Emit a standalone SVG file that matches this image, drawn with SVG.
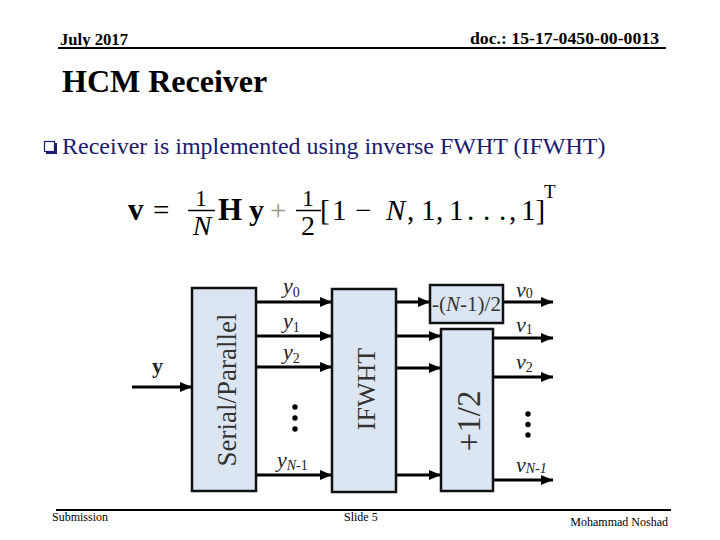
<svg xmlns="http://www.w3.org/2000/svg" width="720" height="540" viewBox="0 0 720 540">
<defs>
<marker id="ah" markerUnits="userSpaceOnUse" markerWidth="12" markerHeight="10" viewBox="0 0 12 10" refX="12" refY="5" orient="auto">
<path d="M0,0 L12,5 L0,10 z" fill="#000"/>
</marker>
<style>
.hdr{font-family:"Liberation Serif",serif;font-weight:bold;fill:#000}
.ftr{font-family:"Liberation Serif",serif;font-size:12px;fill:#000}
.bul{font-family:"Liberation Serif",serif;font-size:24px;fill:#1a1a70}
.box{fill:#dce6f2;stroke:#111;stroke-width:2.5}
.blk{font-family:"Liberation Serif",serif;fill:#333}
.lbl{font-family:"Liberation Serif",serif;font-size:22px;font-style:italic;fill:#222}
.sub{font-size:14px;font-style:normal}
.it{font-style:italic}
.eq{font-family:"Liberation Serif",serif;font-size:29px;fill:#000}
.conn line{stroke:#000;stroke-width:3;marker-end:url(#ah)}
</style>
</defs>
<rect width="720" height="540" fill="#fff"/>

<!-- header -->
<text class="hdr" x="60" y="45" font-size="17" textLength="68" lengthAdjust="spacingAndGlyphs">July 2017</text>
<text class="hdr" x="470" y="44" font-size="17.5" textLength="189" lengthAdjust="spacingAndGlyphs">doc.: 15-17-0450-00-0013</text>
<line x1="58" y1="48" x2="666" y2="48" stroke="#000" stroke-width="2"/>

<!-- title -->
<text class="hdr" x="62" y="92" font-size="32">HCM Receiver</text>

<!-- bullet -->
<g id="bullet">
<rect x="44.5" y="141.5" width="10" height="10" fill="none" stroke="#1a1a70" stroke-width="1.2"/>
<path d="M46,153 H56 V143" fill="none" stroke="#1a1a70" stroke-width="2"/>
<text class="bul" x="62" y="154">Receiver is implemented using inverse FWHT (IFWHT)</text>
</g>

<!-- equation -->
<g id="equation" class="eq">
<text x="128" y="220" font-weight="bold" font-size="31">v</text>
<text x="153" y="220">=</text>
<text x="201" y="206" font-size="23" text-anchor="middle">1</text>
<line x1="188" y1="210.5" x2="215" y2="210.5" stroke="#000" stroke-width="1.5"/>
<text x="202" y="235" font-size="28" font-style="italic" text-anchor="middle">N</text>
<text x="218" y="220" font-weight="bold" font-size="31">H</text>
<text x="249" y="220" font-weight="bold" font-size="30">y</text>
<text x="270" y="220" fill="#9a9a82">+</text>
<text x="308" y="206" font-size="23" text-anchor="middle">1</text>
<line x1="296" y1="210.5" x2="321" y2="210.5" stroke="#000" stroke-width="1.5"/>
<text x="308" y="235" font-size="28" text-anchor="middle">2</text>
<text x="320" y="220">[</text>
<text x="332" y="220">1</text>
<text x="355" y="220">−</text>
<text x="386" y="220" font-style="italic">N</text>
<text x="407" y="220">,</text>
<text x="421" y="220">1</text>
<text x="436" y="220">,</text>
<text x="449" y="220">1</text>
<text x="467" y="220">.</text>
<text x="483" y="220">.</text>
<text x="499" y="220">.</text>
<text x="509" y="220">,</text>
<text x="521" y="220">1</text>
<text x="535.5" y="220">]</text>
<text x="544" y="198" font-size="19">T</text>
</g>

<!-- nodes -->
<g id="sp">
<rect class="box" x="192" y="288" width="64" height="203"/>
<text class="blk" font-size="27" text-anchor="middle" transform="translate(236,390) rotate(-90)">Serial/Parallel</text>
</g>
<g id="ifwht">
<rect class="box" x="332" y="289" width="64" height="203"/>
<text class="blk" font-size="26" text-anchor="middle" transform="translate(375,389) rotate(-90)">IFWHT</text>
</g>
<g id="minus">
<rect class="box" x="430" y="285" width="73" height="38"/>
<text class="blk" x="466.5" y="311" font-size="21" text-anchor="middle">-(<tspan font-style="italic">N</tspan>-1)/2</text>
</g>
<g id="plus">
<rect class="box" x="441" y="329" width="52" height="162"/>
<text class="blk" font-size="33" text-anchor="middle" transform="translate(480,421) rotate(-90)">+1/2</text>
</g>

<!-- connectors -->
<g id="connectors" class="conn">
<line x1="132" y1="387" x2="192" y2="387"/>
<line x1="257" y1="302" x2="332" y2="302"/>
<line x1="257" y1="336" x2="332" y2="336"/>
<line x1="257" y1="367" x2="332" y2="367"/>
<line x1="257" y1="475" x2="332" y2="475"/>
<line x1="397" y1="302" x2="430" y2="302"/>
<line x1="397" y1="336" x2="441" y2="336"/>
<line x1="397" y1="368" x2="441" y2="368"/>
<line x1="397" y1="475" x2="441" y2="475"/>
<line x1="504" y1="302" x2="553" y2="302"/>
<line x1="494" y1="338" x2="553" y2="338"/>
<line x1="494" y1="377" x2="553" y2="377"/>
<line x1="494" y1="480" x2="553" y2="480"/>
</g>

<!-- labels -->
<g id="labels">
<text x="152" y="373" font-family="Liberation Serif, serif" font-size="22" font-weight="bold" fill="#222">y</text>
<text class="lbl" x="283" y="293">y<tspan class="sub" dy="4">0</tspan></text>
<text class="lbl" x="283" y="328">y<tspan class="sub" dy="4">1</tspan></text>
<text class="lbl" x="283" y="359">y<tspan class="sub" dy="4">2</tspan></text>
<text class="lbl" x="277" y="467">y<tspan class="sub" dy="3"><tspan class="it">N</tspan>-1</tspan></text>
<text class="lbl" x="516" y="297">v<tspan class="sub" dy="1">0</tspan></text>
<text class="lbl" x="516" y="332">v<tspan class="sub" dy="2">1</tspan></text>
<text class="lbl" x="516" y="369">v<tspan class="sub" dy="3">2</tspan></text>
<text class="lbl" x="516" y="472">v<tspan class="sub" dy="1"><tspan class="it">N-1</tspan></tspan></text>
</g>

<!-- dots -->
<g id="dots" fill="#000">
<circle cx="295" cy="407" r="2.7"/>
<circle cx="295" cy="418" r="2.7"/>
<circle cx="295" cy="429" r="2.7"/>
<circle cx="528" cy="414" r="2.7"/>
<circle cx="528" cy="424.5" r="2.7"/>
<circle cx="528" cy="435" r="2.7"/>
</g>

<!-- footer -->
<line x1="56" y1="510" x2="671" y2="510" stroke="#000" stroke-width="2"/>
<text class="ftr" x="52" y="521">Submission</text>
<text class="ftr" x="344" y="521">Slide 5</text>
<text class="ftr" x="668" y="526" text-anchor="end">Mohammad Noshad</text>
</svg>
